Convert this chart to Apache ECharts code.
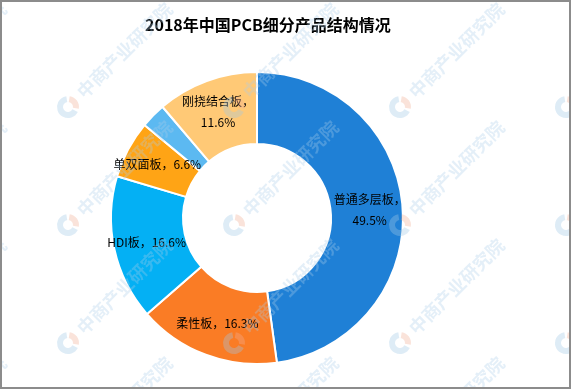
<!DOCTYPE html>
<html>
<head>
<meta charset="utf-8">
<script src="https://cdn.jsdelivr.net/npm/echarts@6/dist/echarts.min.js"></script>
<style>
html,body{margin:0;padding:0;background:#fff;}
#chart{width:571px;height:389px;}
</style>
</head>
<body>
<div id="chart"></div>
<script>
// ---- data ----
var titleText = '2018年中国PCB细分产品结构情况';
var categories = ['普通多层板', '柔性板', 'HDI板', '单双面板', '封装基板', '刚挠结合板'];
var shares = [49.5, 16.3, 16.6, 6.6, 2.9, 11.6];
var wrapNames = ['普通多层板', '刚挠结合板'];
var sliceColors = ['#1f80d6', '#fa7c25', '#04b0f4', '#ffa415', '#5cb9f1', '#ffc976'];
var watermarkText = '中商产业研究院';

// ---- watermarks ----
var wmX = [-98, 68, 234, 400, 566];
var wmY = [107, 225, 343, 461];
var graphics = [];
wmX.forEach(function (lx) {
  wmY.forEach(function (ly) {
    graphics.push({
      type: 'sector', z: 100, silent: true,
      shape: { cx: lx, cy: ly, r: 11, r0: 5, startAngle: -Math.PI * 0.45, endAngle: Math.PI * 0.05 },
      style: { fill: 'rgba(240,175,150,0.35)' }
    });
    graphics.push({
      type: 'sector', z: 100, silent: true,
      shape: { cx: lx, cy: ly, r: 11, r0: 5, startAngle: Math.PI * 0.15, endAngle: Math.PI * 1.45 },
      style: { fill: 'rgba(160,200,228,0.35)' }
    });
    graphics.push({
      type: 'text', z: 100, silent: true,
      x: lx + 12, y: ly - 12, rotation: Math.PI / 4,
      style: {
        text: watermarkText, fill: 'rgba(170,206,232,0.32)',
        font: 'bold 18px "Noto Sans CJK SC", sans-serif',
        textAlign: 'left', textVerticalAlign: 'middle'
      }
    });
  });
});
graphics.push({
  type: 'rect', z: 110, silent: true,
  shape: { x: 1, y: 1, width: 569, height: 387 },
  style: { fill: 'none', stroke: '#8c8c8c', lineWidth: 2 }
});

var pieData = categories.map(function (c, i) {
  return { name: c, value: shares[i], itemStyle: { color: sliceColors[i] } };
});

var chart = echarts.init(document.getElementById('chart'));
chart.setOption({
  backgroundColor: '#fff',
  animation: false,
  title: {
    text: titleText, left: 140, top: 12,
    textStyle: { fontFamily: '"Noto Sans CJK SC", sans-serif', fontSize: 16, fontWeight: 'bold', color: '#000' }
  },
  graphic: graphics,
  series: [{
    type: 'pie',
    center: [257, 218],
    radius: [74, 146],
    startAngle: 90,
    clockwise: true,
    data: pieData,
    itemStyle: { borderColor: '#fff', borderWidth: 2 },
    label: {
      show: true, position: 'inside',
      color: '#000', fontSize: 12, lineHeight: 21,
      fontFamily: '"Noto Sans CJK SC", sans-serif',
      formatter: function (p) {
        var v = p.value.toFixed(1) + '%';
        return wrapNames.indexOf(p.name) >= 0 ? p.name + '，\n' + v : p.name + '，' + v;
      }
    },
    labelLine: { show: false },
    emphasis: { disabled: true }
  }]
});
</script>
</body>
</html>
